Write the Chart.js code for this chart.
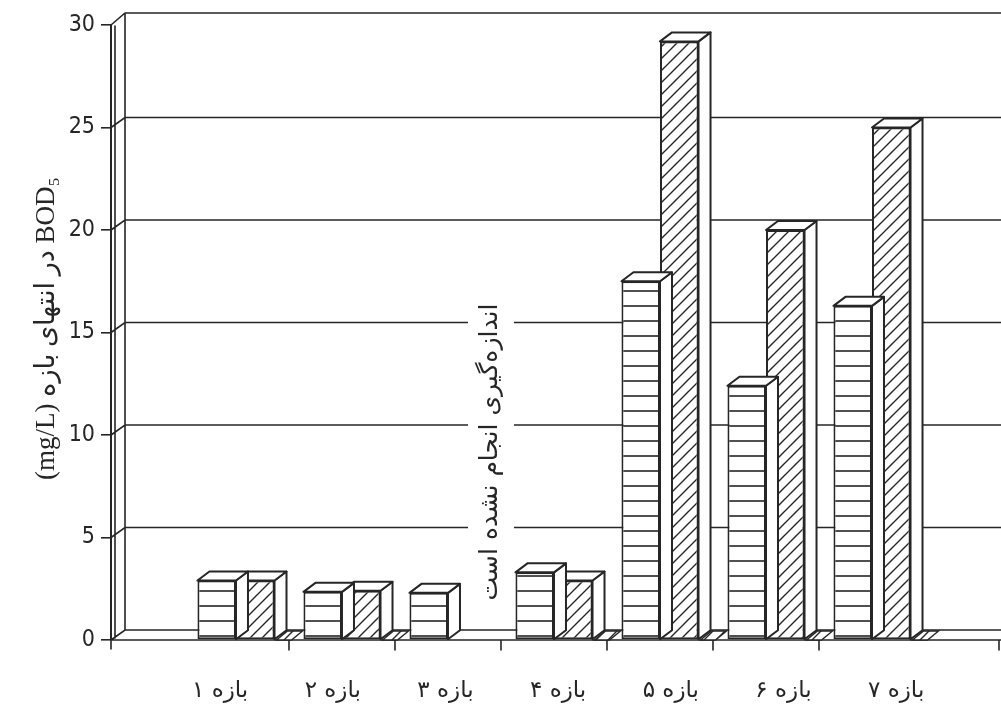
<!DOCTYPE html>
<html>
<head>
<meta charset="utf-8">
<title>BOD5</title>
<script src="https://cdn.jsdelivr.net/npm/chart.js@4.4.1/dist/chart.umd.min.js"></script>
<style>
  html, body { margin: 0; padding: 0; background: #ffffff; }
  canvas { display: block; }
</style>
</head>
<body>
<canvas id="chart" width="1001" height="704"></canvas>
<script>
// Reach (بازه) labels and the two measured series, BOD5 in mg/L
const categories = ['بازه ۱', 'بازه ۲', 'بازه ۳', 'بازه ۴', 'بازه ۵', 'بازه ۶', 'بازه ۷'];
const seriesStriped = [2.9, 2.35, 2.3, 3.3, 17.5, 12.4, 16.3];
const seriesHatched = [2.9, 2.4, null, 2.9, 29.2, 20.0, 25.0];
const yTickValues = [0, 5, 10, 15, 20, 25, 30];
const yTitleText = 'BOD₅ در انتهای بازه (mg/L)';
const missingNote = 'اندازه‌گیری انجام نشده است';
const missingIndex = 2;

const INK = '#262626';
const WALL_DX = 14, WALL_DY = 10;   // depth of the back wall / floor
const BAR_DX = 12, BAR_DY = 9;      // depth of each column
const PERSIAN = '"DejaVu Sans", "Noto Sans", sans-serif';

// fill patterns: horizontal stripes and forward diagonal hatching
function stripePattern(ctx) {
  const c = document.createElement('canvas');
  c.width = 8; c.height = 15;
  const g = c.getContext('2d');
  g.fillStyle = '#ffffff'; g.fillRect(0, 0, 8, 15);
  g.fillStyle = INK; g.fillRect(0, 5.2, 8, 1.6);
  return ctx.createPattern(c, 'repeat');
}
function hatchPattern(ctx) {
  const s = 12;
  const c = document.createElement('canvas');
  c.width = s; c.height = s;
  const g = c.getContext('2d');
  g.fillStyle = '#ffffff'; g.fillRect(0, 0, s, s);
  g.strokeStyle = INK; g.lineWidth = 1.4;
  g.beginPath();
  g.moveTo(-1, s + 1); g.lineTo(s + 1, -1);
  g.moveTo(-2, 2); g.lineTo(2, -2);
  g.moveTo(s - 2, s + 2); g.lineTo(s + 2, s - 2);
  g.stroke();
  return ctx.createPattern(c, 'repeat');
}

const canvas = document.getElementById('chart');
const ctx = canvas.getContext('2d');
const stripes = stripePattern(ctx);
const hatch = hatchPattern(ctx);

function poly(g, pts, fill) {
  g.beginPath();
  g.moveTo(pts[0][0], pts[0][1]);
  for (let i = 1; i < pts.length; i++) g.lineTo(pts[i][0], pts[i][1]);
  g.closePath();
  if (fill) { g.fillStyle = fill; g.fill(); }
  g.stroke();
}

const boxPlugin = {
  id: 'box3d',
  beforeDraw(chart) {
    const g = chart.ctx;
    g.save();
    g.fillStyle = '#ffffff';
    g.fillRect(0, 0, chart.width, chart.height);
    g.restore();
  },
  beforeDatasetsDraw(chart) {
    const g = chart.ctx, y = chart.scales.y, x = chart.scales.x, a = chart.chartArea;
    g.save();
    g.strokeStyle = INK; g.lineWidth = 1.6; g.lineCap = 'round';
    const backX = a.left + WALL_DX;
    // back wall edge and grid lines on the wall
    g.beginPath();
    g.moveTo(backX, y.getPixelForValue(0) - WALL_DY);
    g.lineTo(backX, y.getPixelForValue(30) - WALL_DY - 2);
    yTickValues.forEach(v => {
      const fy = y.getPixelForValue(v);
      const by = fy - WALL_DY - (v === 30 ? 2 : 0);
      g.moveTo(a.left, fy); g.lineTo(backX, by);
      g.lineTo(a.right, by);
    });
    // floor front edge, inner wall line and category ticks
    const y0 = y.getPixelForValue(0);
    g.moveTo(a.left, y0); g.lineTo(a.right, y0);
    g.moveTo(a.left + 4, y0 - 2); g.lineTo(a.left + 4, y.getPixelForValue(30) + 1);
    g.moveTo(a.left, y0); g.lineTo(a.left, y0 + 9);
    for (let i = 0; i < categories.length - 1; i++) {
      const px = x.getPixelForValue(i + 0.5);
      g.moveTo(px, y0); g.lineTo(px, y0 + 10);
    }
    g.moveTo(a.right - 2, y0); g.lineTo(a.right - 2, y0 + 10);
    g.stroke();

    // hatched floor shadow to the right of each hatched column
    const meta = chart.getDatasetMeta(1);
    meta.data.forEach((el, i) => {
      if (seriesHatched[i] == null) return;
      const r = el.x + el.width / 2;
      g.lineWidth = 1.4;
      poly(g, [[r + 2, y0], [r + 17, y0], [r + 28, y0 - BAR_DY], [r + 13, y0 - BAR_DY]], hatch);
    });

    // white panel behind the "not measured" note
    const nx = x.getPixelForValue(missingIndex) + 43;
    g.fillStyle = '#ffffff';
    g.fillRect(nx - 23, 290, 46, 322);
    g.restore();
  },
  afterDatasetDraw(chart, args) {
    const g = chart.ctx;
    const meta = chart.getDatasetMeta(args.index);
    const values = args.index === 0 ? seriesStriped : seriesHatched;
    g.save();
    g.strokeStyle = INK; g.lineWidth = 2; g.lineJoin = 'round';
    meta.data.forEach((el, i) => {
      if (values[i] == null) return;
      const L = el.x - el.width / 2, R = el.x + el.width / 2, T = el.y, B = el.base;
      poly(g, [[R, T], [R + BAR_DX, T - BAR_DY], [R + BAR_DX, B - BAR_DY], [R, B]], '#ffffff');
      poly(g, [[L, T], [R, T], [R + BAR_DX, T - BAR_DY], [L + BAR_DX, T - BAR_DY]], '#ffffff');
    });
    g.restore();
  },
  afterDraw(chart) {
    const g = chart.ctx, a = chart.chartArea, x = chart.scales.x;
    g.save();
    g.fillStyle = INK;
    // y axis title, right-to-left
    g.translate(47, (a.top + a.bottom) / 2 - 4);
    g.rotate(-Math.PI / 2);
    g.direction = 'rtl';
    g.textAlign = 'center';
    g.textBaseline = 'middle';
    g.font = '27px "Liberation Serif", "DejaVu Serif", ' + PERSIAN;
    g.fillText(yTitleText, 0, 0);
    g.restore();

    // vertical note where no measurement exists
    g.save();
    g.fillStyle = INK;
    const nx = x.getPixelForValue(missingIndex) + 43;
    g.translate(nx, 452);
    g.rotate(-Math.PI / 2);
    g.direction = 'rtl';
    g.textAlign = 'center';
    g.textBaseline = 'middle';
    g.font = '25px ' + PERSIAN;
    g.fillText(missingNote, 0, 0);
    g.restore();
  }
};

const LABEL_START = -0.15, LABEL_STEP = 1.063;

new Chart(ctx, {
  type: 'bar',
  data: {
    datasets: [
      {
        data: seriesStriped.map((v, i) => ({ x: i, y: v })),
        backgroundColor: stripes,
        borderColor: INK,
        borderWidth: 2,
        borderSkipped: false
      },
      {
        data: seriesHatched.map((v, i) => ({ x: i, y: v })),
        backgroundColor: hatch,
        borderColor: INK,
        borderWidth: 2,
        borderSkipped: false
      }
    ]
  },
  options: {
    responsive: false,
    animation: false,
    devicePixelRatio: 1,
    layout: { padding: { top: 25, right: 0, bottom: 0, left: 0 } },
    datasets: { bar: { categoryPercentage: 0.727, barPercentage: 1 } },
    plugins: { legend: { display: false }, tooltip: { enabled: false } },
    scales: {
      x: {
        type: 'linear',
        offset: false,
        min: -1.179,
        max: 7.217,
        grid: { display: false, offset: false },
        border: { display: false },
        afterBuildTicks: s => { s.ticks = categories.map((c, i) => ({ value: LABEL_START + i * LABEL_STEP })); },
        ticks: {
          autoSkip: false,
          maxRotation: 0,
          padding: 29,
          color: INK,
          font: { family: PERSIAN, size: 23 },
          callback: (v, i) => categories[i]
        },
        afterFit: s => { s.height = 64; }
      },
      y: {
        min: 0,
        max: 30,
        afterBuildTicks: s => { s.ticks = yTickValues.map(v => ({ value: v })); },
        grid: { drawOnChartArea: false, tickLength: 10, color: INK, lineWidth: 1.6 },
        border: { display: true, color: INK, width: 2 },
        ticks: {
          padding: 6,
          color: INK,
          font: { family: '"Liberation Sans Narrow", "DejaVu Sans Condensed", "Liberation Sans", sans-serif', size: 23 }
        },
        afterFit: s => { s.width = 111; }
      }
    }
  },
  plugins: [boxPlugin]
});
</script>
</body>
</html>
